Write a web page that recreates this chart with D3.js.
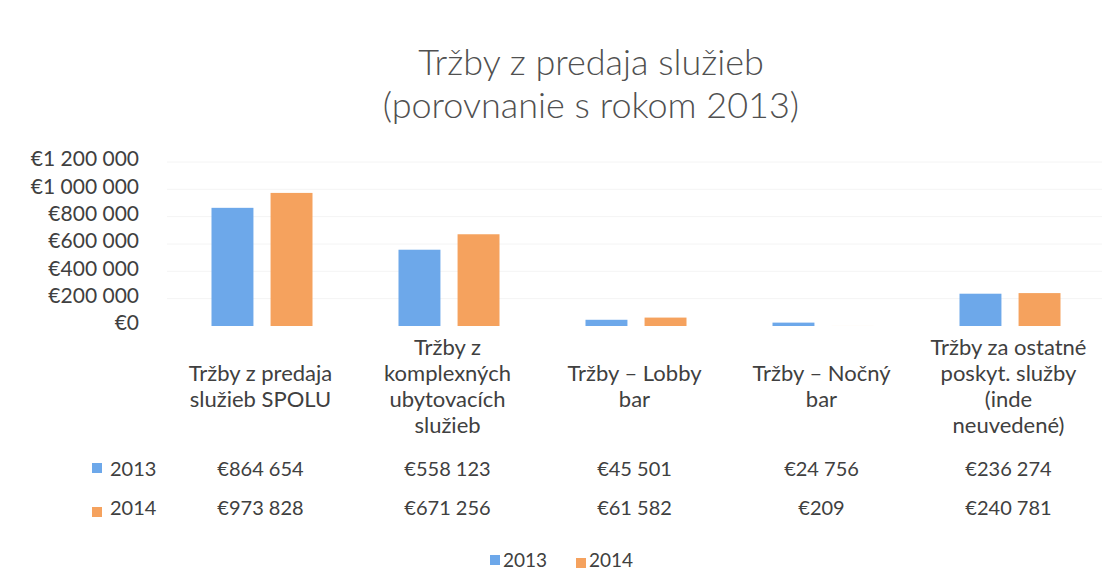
<!DOCTYPE html>
<html>
<head>
<meta charset="utf-8">
<script src="https://cdn.jsdelivr.net/npm/d3@7"></script>
<style>
  body { margin: 0; background: #fff; }
  text { font-family: Lato, "Open Sans", sans-serif; fill: #404040; }
</style>
</head>
<body>
<svg id="chart" width="1114" height="573"></svg>
<script>
// data
var categories = [
  ["Tržby z predaja", "služieb SPOLU"],
  ["Tržby z", "komplexných", "ubytovacích", "služieb"],
  ["Tržby – Lobby", "bar"],
  ["Tržby – Nočný", "bar"],
  ["Tržby za ostatné", "poskyt. služby", "(inde", "neuvedené)"]
];
var years = ["2013", "2014"];
var values2013 = [864654, 558123, 45501, 24756, 236274];
var values2014 = [973828, 671256, 61582, 209, 240781];
var yTicks = [0, 200000, 400000, 600000, 800000, 1000000, 1200000];
var colors = ["#6da8ea", "#f5a25e"];

var series = [values2013, values2014];

var svg = d3.select("#chart");

var loc = d3.formatLocale({ decimal: ",", thousands: "\u00a0", grouping: [3], currency: ["€", ""] });
var fmt = loc.format("$,.0f");

var x = d3.scaleBand().domain(d3.range(categories.length)).range([167, 1102]);
var mid = x.bandwidth() / 2;
var xs = d3.scaleBand().domain(d3.range(years.length)).range([mid - 49, mid + 52]).paddingInner(0.29);
var y = d3.scaleLinear().domain([0, 1200000]).range([326, 162]);

// title
var title = svg.append("text").attr("text-anchor", "middle").style("font-size", "36px")
  .style("font-weight", 300).style("fill", "#505050");
title.append("tspan").attr("x", 591).attr("y", 75).text("Tržby z predaja služieb");
title.append("tspan").attr("x", 591).attr("y", 118).text("(porovnanie s rokom 2013)");

// grid (very faint in the original)
svg.append("g").selectAll("line").data(yTicks.slice(1)).join("line")
  .attr("x1", 167).attr("x2", 1102)
  .attr("y1", d => y(d)).attr("y2", d => y(d))
  .attr("stroke", "#f4f4f4");

// y axis
var yAxis = d3.axisLeft(y).tickValues(yTicks).tickFormat(fmt).tickSize(0).tickPadding(0);
var ga = svg.append("g").attr("transform", "translate(139,-3)").call(yAxis);
ga.select(".domain").remove();
ga.selectAll("text").style("font-size", "21px").style("font-family", "Lato, sans-serif").attr("fill", "#404040");

// bars
series.forEach(function (vals, si) {
  svg.append("g").selectAll("rect").data(vals).join("rect")
    .attr("x", (d, i) => x(i) + xs(si))
    .attr("width", xs.bandwidth())
    .attr("y", d => y(d))
    .attr("height", d => y(0) - y(d))
    .attr("fill", colors[si]);
});

// category labels
var lh = 26;
categories.forEach(function (lines, i) {
  var cx = x(i) + mid;
  var top = 394 - (lines.length - 1) * lh / 2;
  var t = svg.append("text").attr("text-anchor", "middle").style("font-size", "22px");
  lines.forEach(function (ln, k) {
    t.append("tspan").attr("x", cx).attr("y", top + k * lh).text(ln);
  });
});

// data table rows
var rowY = [476, 515];
var markY = [463, 507];
series.forEach(function (vals, si) {
  svg.append("rect").attr("x", 92).attr("y", markY[si]).attr("width", 10).attr("height", 10).attr("fill", colors[si]);
  svg.append("text").attr("x", 110).attr("y", rowY[si]).style("font-size", "20px").text(years[si]);
  svg.append("g").selectAll("text").data(vals).join("text")
    .attr("x", (d, i) => x(i) + mid)
    .attr("y", rowY[si])
    .attr("text-anchor", "middle")
    .style("font-size", "20px")
    .text(d => fmt(d));
});

// legend
var lg = svg.append("g").attr("transform", "translate(490,567)");
years.forEach(function (yr, si) {
  var g = lg.append("g").attr("transform", "translate(" + si * 86 + ",0)");
  g.append("rect").attr("x", 0).attr("y", si ? -9 : -12).attr("width", 10).attr("height", 10).attr("fill", colors[si]);
  g.append("text").attr("x", 13).attr("y", 0).style("font-size", "19px").text(yr);
});
</script>
</body>
</html>
